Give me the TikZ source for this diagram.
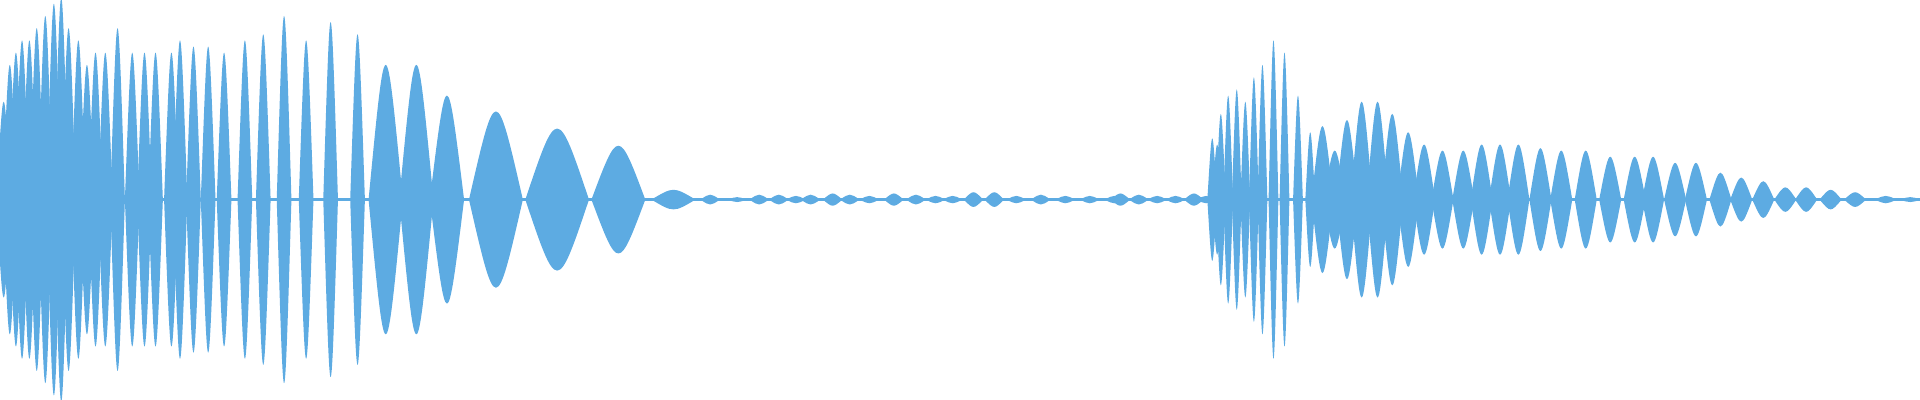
\documentclass[tikz,border=0pt]{standalone}
\definecolor{wave}{RGB}{93,171,226}
\begin{document}
\begin{tikzpicture}[x=1pt,y=-1pt]
\useasboundingbox (0,0) rectangle (1568,326);
\newcommand{\lobe}[3]{\fill[wave] (#1-#2,163) .. controls (#1,163-1.333*#3) .. (#1+#2,163) .. controls (#1,163+1.333*#3) .. cycle;}
% left dense region
\foreach \c/\a in {3/80,8/110,13/120,18/130,24/130,30/140,37/150,44/160,50/165,56/140,64/130,71/110,78/120,86/120,96/140,108/120,118/120,127/120,140/120,147/130,158/125,170/125,183/120,200/130,215/135,232/150,250/130,270/145,292/135}
  {\lobe{\c}{6}{\a}}
\foreach \c/\a in {315/110,340/110,365/85}{\lobe{\c}{14}{\a}}
\lobe{405}{22}{72}
\lobe{455}{26}{58}
\lobe{505}{22}{44}
\lobe{550}{18}{8}
\foreach \c/\a in {580/4,602/2,620/4,636/4,650/3,662/4,680/5,694/4,710/3,730/5,748/4,764/3,778/3,795/6,812/6,830/3,850/4,870/3,890/3,910/3,915/5,930/4,945/3,960/3,975/5,985/3}
  {\lobe{\c}{8}{\a}}
\fill[wave] (0,161.8) rectangle (1568,164.2);
% right region
\foreach \c/\a in {990/50,994/45,997/70,1003/85,1010/90,1017/80,1024/100,1031/110,1040/130,1049/120,1060/85,1070/55}
  {\lobe{\c}{4}{\a}}
\foreach \c/\a in {1080/60,1090/40,1100/65,1112/80,1125/80,1137/70,1150/55,1163/45,1178/40,1195/40,1210/45,1225/45,1240/45,1258/42,1275/40,1295/40,1315/35,1335/35,1350/35,1368/30,1385/30,1405/22,1422/18,1440/15,1458/10,1475/10,1495/8,1515/6,1540/3,1560/2}
  {\lobe{\c}{9}{\a}}
\end{tikzpicture}
\end{document}
